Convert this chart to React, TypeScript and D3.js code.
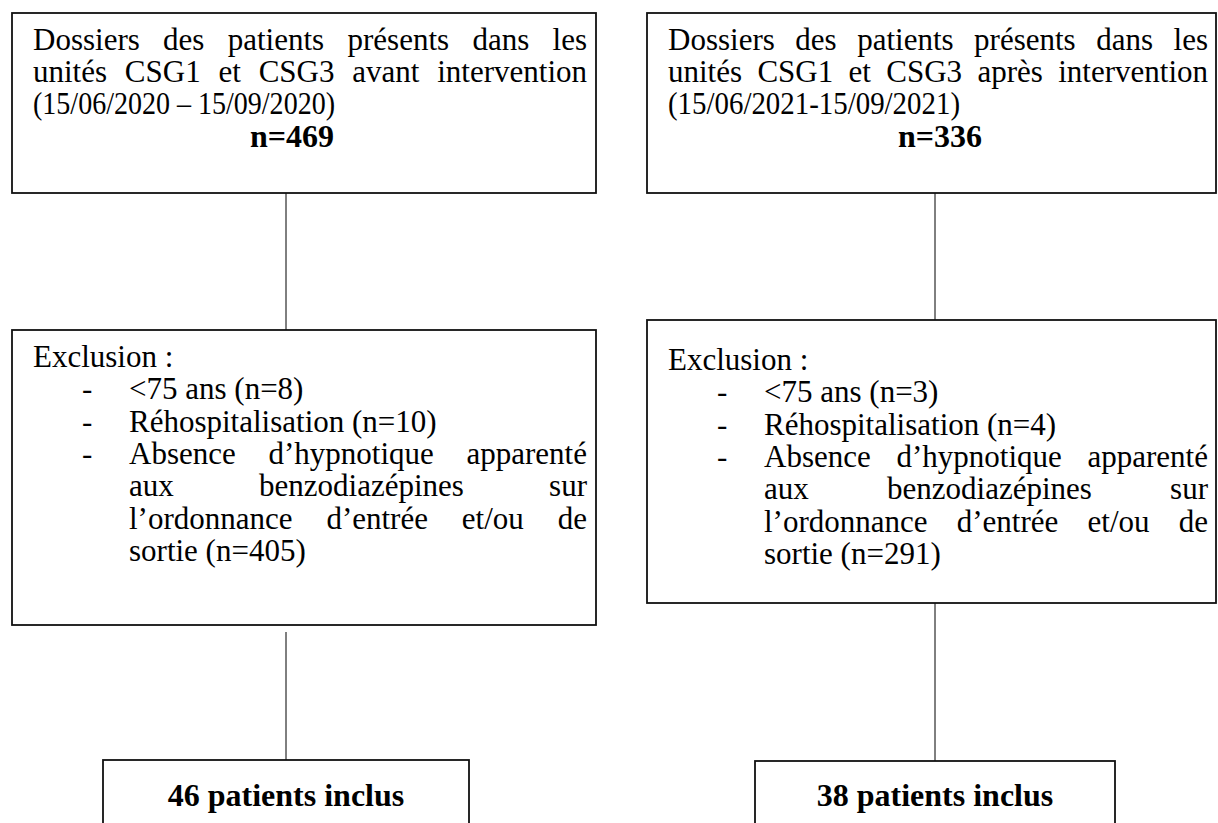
import React, { useEffect, useRef } from 'react';
import * as d3 from 'd3';

const W = 1218;
const H = 823;
const FONT = "'Liberation Serif', 'Times New Roman', Times, serif";
const BODY = 31;
const BOLD = 32;
const LINE = 32;
const LINE_EXCL = 32.3;

// text of the two flows (before / after intervention)
const periods = ['(15/06/2020 – 15/09/2020)', '(15/06/2021-15/09/2021)'];
const moments = ['avant', 'après'];
const totals = [469, 336];
const underAge = [8, 3];
const rehosp = [10, 4];
const noHypnotic = [405, 291];
const included = [46, 38];

// geometry of each column
const COLS = [
  { x0: 12, x1: 596, cx: 286, tl: 33, tr: 587, dateW: 302, nx: 292, top: [13, 193], excl: [330, 625], gap: 632, base: 367, incl: [103, 469], inclTop: 760 },
  { x0: 647, x1: 1216, cx: 935, tl: 668, tr: 1208, dateW: 292, nx: 940, top: [13, 193], excl: [320, 603], gap: 603, base: 370, incl: [755, 1115], inclTop: 761 },
];

function justify(g: any, line: string, xl: number, xr: number, y: number, size: number) {
  const words = line.split(' ');
  const nodes = words.map(w => g.append('text').attr('y', y).attr('font-size', size).text(w));
  const widths = nodes.map(n => (n.node() as SVGTextElement).getComputedTextLength());
  const total = d3.sum(widths);
  const space = words.length > 1 ? (xr - xl - total) / (words.length - 1) : 0;
  let x = xl;
  nodes.forEach((n, i) => {
    n.attr('x', x);
    x += widths[i] + space;
  });
}

export default function App() {
  const ref = useRef<SVGSVGElement>(null);

  useEffect(() => {
    const svg = d3.select(ref.current);
    svg.selectAll('*').remove();
    const root = svg.append('g').style('font-family', FONT).attr('fill', '#000');

    COLS.forEach((c, i) => {
      const g = root.append('g');
      const box = (x0: number, y0: number, x1: number, y1: number) =>
        g.append('rect').attr('x', x0).attr('y', y0).attr('width', x1 - x0).attr('height', y1 - y0)
          .attr('fill', '#fff').attr('stroke', '#111').attr('stroke-width', 1.8);
      const link = (y0: number, y1: number) =>
        g.append('line').attr('x1', c.cx).attr('x2', c.cx).attr('y1', y0).attr('y2', y1)
          .attr('stroke', '#000').attr('stroke-width', 1);

      // connectors
      link(c.top[1], c.excl[0]);
      link(c.gap, c.inclTop);

      // header box
      box(c.x0, c.top[0], c.x1, c.top[1]);
      const y0 = 50;
      justify(g, 'Dossiers des patients présents dans les', c.tl, c.tr, y0, BODY);
      justify(g, `unités CSG1 et CSG3 ${moments[i]} intervention`, c.tl, c.tr, y0 + LINE, BODY);
      g.append('text').attr('x', c.tl).attr('y', y0 + 2 * LINE).attr('font-size', BODY)
        .attr('textLength', c.dateW).attr('lengthAdjust', 'spacingAndGlyphs').text(periods[i]);
      g.append('text').attr('x', c.nx).attr('y', y0 + 3 * LINE + 1).attr('text-anchor', 'middle')
        .attr('font-size', BOLD).attr('font-weight', 'bold').text(`n=${totals[i]}`);

      // exclusion box
      box(c.x0, c.excl[0], c.x1, c.excl[1]);
      const dashX = c.tl + 49;
      const itemX = c.tl + 96;
      const b = c.base;
      g.append('text').attr('x', c.tl).attr('y', b).attr('font-size', BODY).text('Exclusion :');
      const bullets = [`<75 ans (n=${underAge[i]})`, `Réhospitalisation (n=${rehosp[i]})`, 'Absence d’hypnotique apparenté'];
      bullets.forEach((t, k) => {
        const y = b + (k + 1) * LINE_EXCL;
        g.append('text').attr('x', dashX).attr('y', y).attr('font-size', BODY).text('-');
        if (k === 2) justify(g, t, itemX, c.tr, y, BODY);
        else g.append('text').attr('x', itemX).attr('y', y).attr('font-size', BODY).text(t);
      });
      justify(g, 'aux benzodiazépines sur', itemX, c.tr, b + 4 * LINE_EXCL, BODY);
      justify(g, 'l’ordonnance d’entrée et/ou de', itemX, c.tr, b + 5 * LINE_EXCL, BODY);
      g.append('text').attr('x', itemX).attr('y', b + 6 * LINE_EXCL).attr('font-size', BODY).text(`sortie (n=${noHypnotic[i]})`);

      // included box
      box(c.incl[0], c.inclTop, c.incl[1], H + 20);
      g.append('text').attr('x', (c.incl[0] + c.incl[1]) / 2).attr('y', 806).attr('text-anchor', 'middle')
        .attr('font-size', BOLD).attr('font-weight', 'bold').text(`${included[i]} patients inclus`);
    });
  }, []);

  return (
    <svg ref={ref} width={W} height={H} style={{ position: 'absolute', left: 0, top: 0, background: '#fff' }} />
  );
}
